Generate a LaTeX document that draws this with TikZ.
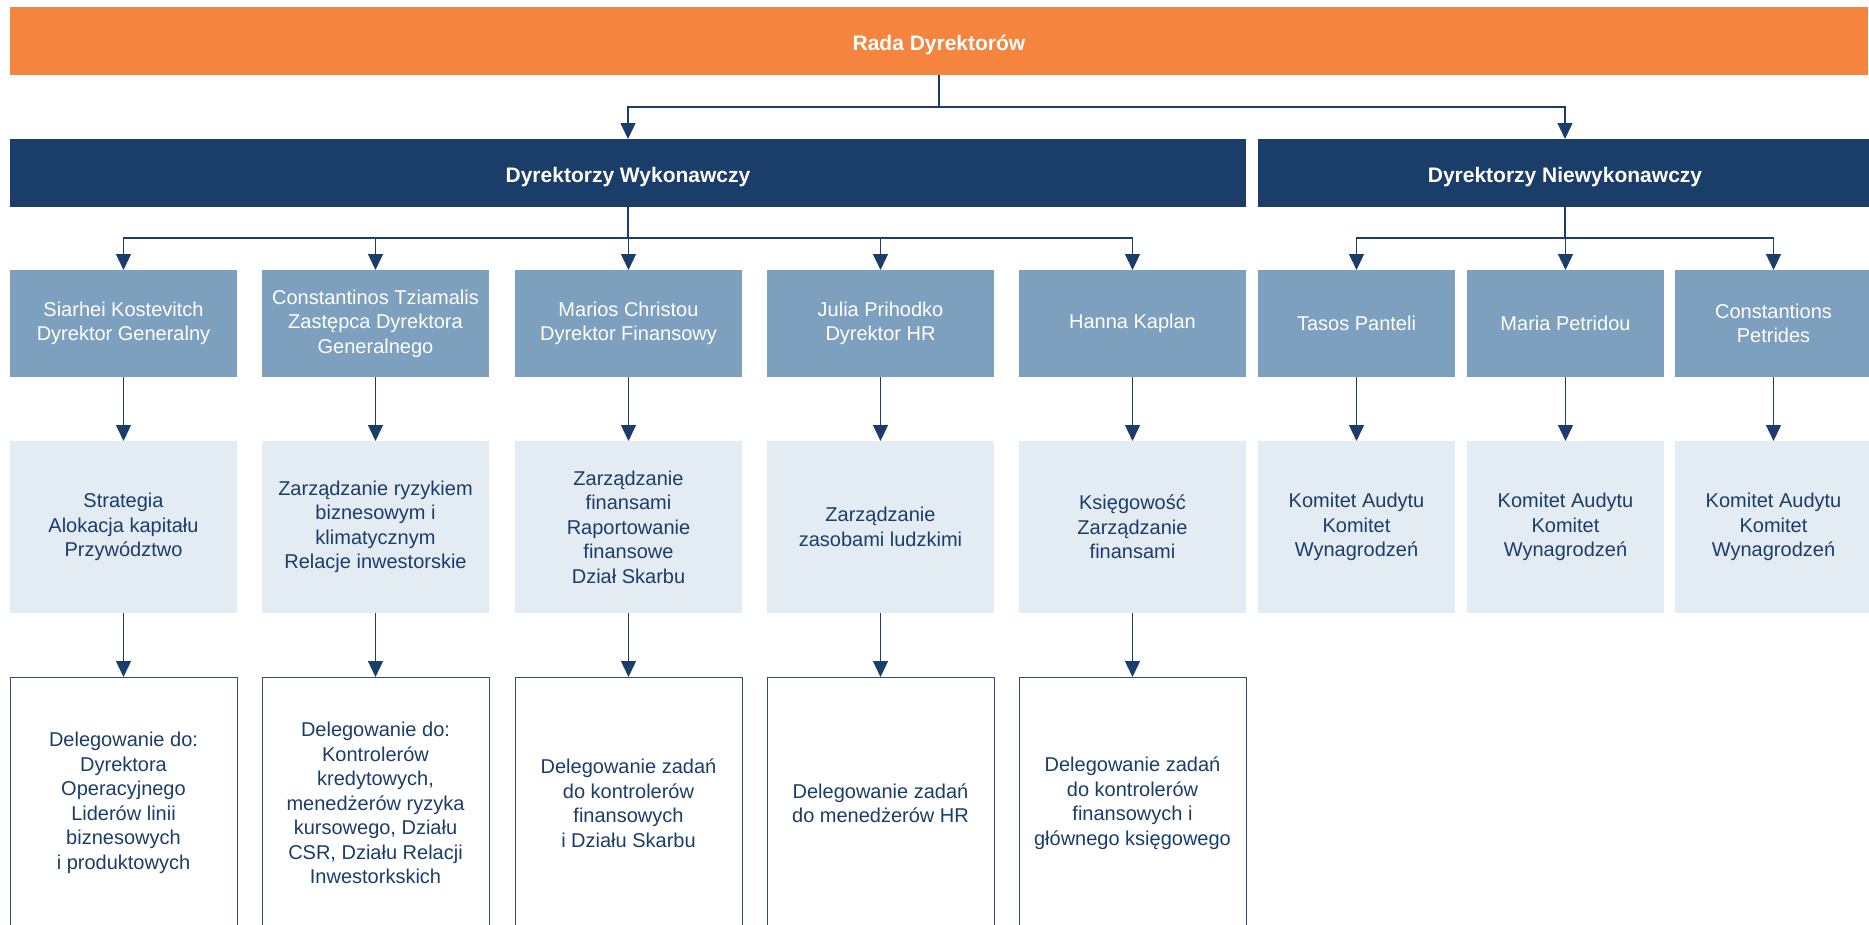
\documentclass[tikz,border=0pt]{standalone}
\usepackage{fontspec}
\setmainfont{Liberation Sans}
\usetikzlibrary{arrows.meta,calc}
\definecolor{orng}{HTML}{F4843E}
\definecolor{navy}{HTML}{1B3D69}
\definecolor{midblue}{HTML}{7DA0BF}
\definecolor{lightblue}{HTML}{E3EBF3}
\definecolor{bordercol}{HTML}{2E4E76}
\tikzset{
  basebox/.style={rectangle, inner sep=0pt, outer sep=0pt, anchor=north west, align=center,
    font=\fontsize{20}{24.5}\selectfont},
  headbox/.style={basebox, font=\fontsize{21}{25}\selectfont\bfseries, text=white, minimum height=68pt,
    text height=19pt, text depth=0pt},
  personbox/.style={basebox, fill=midblue, text=white, minimum height=107pt},
  rolebox/.style={basebox, fill=lightblue, text=navy, minimum height=172pt},
  delbox/.style={basebox, draw=bordercol, line width=1pt, fill=white, text=navy, minimum height=252pt},
  wexec/.style={minimum width=227pt},
  wnon/.style={minimum width=197pt},
  conn/.style={draw=navy, line width=1.3pt, -{Triangle[length=16pt,width=15pt]}},
}
\begin{document}
\begin{tikzpicture}[x=1pt,y=-1pt]
\useasboundingbox (0,0) rectangle (1869,924);
% top
\node[headbox, fill=orng, minimum width=1858pt] (rada) at (10,7) {Rada Dyrektorów};
\node[headbox, fill=navy, minimum width=1236pt] (exec) at (10,139) {Dyrektorzy Wykonawczy};
\node[headbox, fill=navy, minimum width=614pt] (nonexec) at (1258,139) {Dyrektorzy Niewykonawczy};
% persons
\node[personbox, wexec] (p1) at (10,270) {Siarhei Kostevitch\\Dyrektor Generalny};
\node[personbox, wexec] (p2) at (262,270) {Constantinos Tziamalis\\Zastępca Dyrektora\\Generalnego};
\node[personbox, wexec] (p3) at (515,270) {Marios Christou\\Dyrektor Finansowy};
\node[personbox, wexec] (p4) at (767,270) {Julia Prihodko\\Dyrektor HR};
\node[personbox, wexec] (p5) at (1019,270) {Hanna Kaplan};
\node[personbox, wnon] (p6) at (1258,270) {Tasos Panteli};
\node[personbox, wnon] (p7) at (1467,270) {Maria Petridou};
\node[personbox, wnon] (p8) at (1675,270) {Constantions\\Petrides};
% roles
\node[rolebox, wexec] (r1) at (10,441) {Strategia\\Alokacja kapitału\\Przywództwo};
\node[rolebox, wexec] (r2) at (262,441) {Zarządzanie ryzykiem\\biznesowym i\\klimatycznym\\Relacje inwestorskie};
\node[rolebox, wexec] (r3) at (515,441) {Zarządzanie\\finansami\\Raportowanie\\finansowe\\Dział Skarbu};
\node[rolebox, wexec] (r4) at (767,441) {Zarządzanie\\zasobami ludzkimi};
\node[rolebox, wexec] (r5) at (1019,441) {Księgowość\\Zarządzanie\\finansami};
\node[rolebox, wnon] (r6) at (1258,441) {Komitet Audytu\\Komitet\\Wynagrodzeń};
\node[rolebox, wnon] (r7) at (1467,441) {Komitet Audytu\\Komitet\\Wynagrodzeń};
\node[rolebox, wnon] (r8) at (1675,441) {Komitet Audytu\\Komitet\\Wynagrodzeń};
% delegation
\node[delbox, wexec] (d1) at (10,677) {Delegowanie do:\\Dyrektora\\Operacyjnego\\Liderów linii\\biznesowych\\i produktowych};
\node[delbox, wexec] (d2) at (262,677) {Delegowanie do:\\Kontrolerów\\kredytowych,\\menedżerów ryzyka\\kursowego, Działu\\CSR, Działu Relacji\\Inwestorkskich};
\node[delbox, wexec] (d3) at (515,677) {Delegowanie zadań\\do kontrolerów\\finansowych\\i Działu Skarbu};
\node[delbox, wexec] (d4) at (767,677) {Delegowanie zadań\\do menedżerów HR};
\node[delbox, wexec] (d5) at (1019,677) {Delegowanie zadań\\do kontrolerów\\finansowych i\\głównego księgowego};
% junction coordinates
\coordinate (j0) at (0,107);
\coordinate (j1) at (0,238);
% connectors
\draw[conn] (rada.south) -- (rada.south |- j0) -| (exec.north);
\draw[conn] (rada.south) -- (rada.south |- j0) -| (nonexec.north);
\foreach \p in {p1,p2,p3,p4,p5}{
  \draw[conn] (exec.south) -- (exec.south |- j1) -| (\p.north);
}
\foreach \p in {p6,p7,p8}{
  \draw[conn] (nonexec.south) -- (nonexec.south |- j1) -| (\p.north);
}
\foreach \i in {1,...,8}{
  \draw[conn] (p\i.south) -- (r\i.north);
}
\foreach \i in {1,...,5}{
  \draw[conn] (r\i.south) -- (d\i.north);
}
\end{tikzpicture}
\end{document}
